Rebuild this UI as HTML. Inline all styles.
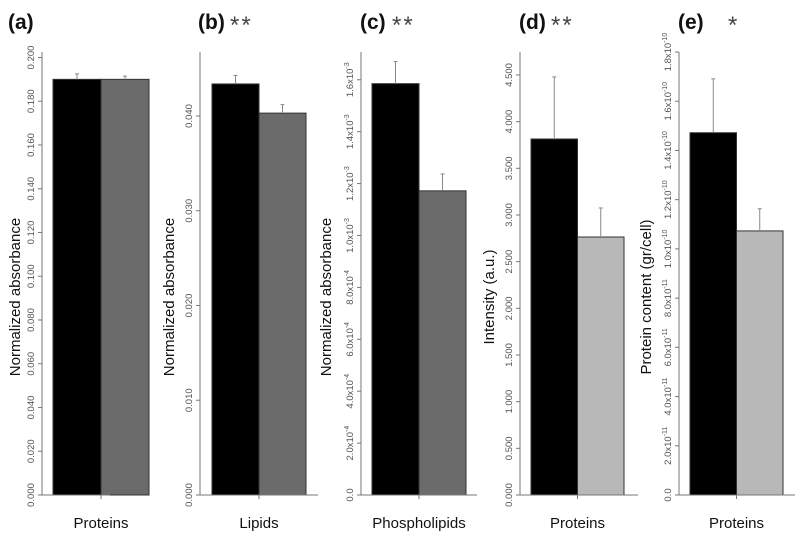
<!DOCTYPE html>
<html><head><meta charset="utf-8"><style>
body{margin:0;background:#fff}
svg{display:block;font-family:"Liberation Sans",Arial,sans-serif}
</style></head><body>
<svg id="chart" width="797" height="550" viewBox="0 0 797 550"></svg>
<script>
const panelLetters = ["(a)","(b)","(c)","(d)","(e)"];
const panelStars = ["", "**", "**", "**", "*"];
const categories = ["Proteins","Lipids","Phospholipids","Proteins","Proteins"];
const yTitles = ["Normalized absorbance","Normalized absorbance","Normalized absorbance","Intensity (a.u.)","Protein content (gr/cell)"];
const controlValues = [0.190, 0.04338, 1.585e-3, 3.814, 1.472e-10];
const controlErrors = [0.0025, 0.0009, 0.085e-3, 0.665, 0.219e-10];
const treatedValues = [0.190, 0.0403, 1.172e-3, 2.764, 1.073e-10];
const treatedErrors = [0.0015, 0.0009, 0.065e-3, 0.311, 0.090e-10];
const yMaxes = [0.2025, 0.04675, 1.707e-3, 4.746, 1.80e-10];
const tickStep = [0.02, 0.01, 0.2e-3, 0.5, 0.2e-10];
const tickCount = [11, 5, 9, 10, 10];
const tickLabelsC = [["0.0",""],["2.0x10","-4"],["4.0x10","-4"],["6.0x10","-4"],["8.0x10","-4"],["1.0x10","-3"],["1.2x10","-3"],["1.4x10","-3"],["1.6x10","-3"]];
const tickLabelsE = [["0.0",""],["2.0x10","-11"],["4.0x10","-11"],["6.0x10","-11"],["8.0x10","-11"],["1.0x10","-10"],["1.2x10","-10"],["1.4x10","-10"],["1.6x10","-10"],["1.8x10","-10"]];
const treatedColors = ["#6b6b6b","#6b6b6b","#6b6b6b","#b8b8b8","#b8b8b8"];

const layout = [
 {ax:42, xEnd:110, bar0:53, bw:48, ylx:14, lx:8, sx:0},
 {ax:200, xEnd:318, bar0:212, bw:47, ylx:168, lx:198, sx:230},
 {ax:361, xEnd:477, bar0:372, bw:47, ylx:325, lx:360, sx:392},
 {ax:520, xEnd:638, bar0:531, bw:46.5, ylx:488, lx:519, sx:551},
 {ax:679, xEnd:795, bar0:690, bw:46.5, ylx:645, lx:678, sx:728}
];
const yTop=52, yBottom=495;
const NS="http://www.w3.org/2000/svg";
const svg=document.getElementById('chart');
function mk(tag,attrs,parent){const e=document.createElementNS(NS,tag);for(const k in attrs)e.setAttribute(k,attrs[k]);(parent||svg).appendChild(e);return e;}
function fmt(i,v){
 if(i===2) return tickLabelsC[Math.round(v/tickStep[2])]||[v.toExponential(1),""];
 if(i===4) return tickLabelsE[Math.round(v/tickStep[4])]||[v.toExponential(1),""];
 return [v.toFixed(3),""];
}
for(let i=0;i<5;i++){
 const L=layout[i];
 const y=v=>yBottom-(v/yMaxes[i])*(yBottom-yTop);
 const g=mk('g',{});
 
 
 const pl=mk('text',{x:L.lx,y:29,'font-size':21,'font-weight':'bold',fill:'#111'},g);pl.textContent=panelLetters[i];
 
 
 if(panelStars[i]){const st=mk('text',{x:L.sx,y:33,'font-size':24,fill:'#444','letter-spacing':2},g);st.textContent=panelStars[i];
  
  }
 const x1=L.bar0,x2=L.bar0+L.bw;
 const vals=[controlValues[i],treatedValues[i]],errs=[controlErrors[i],treatedErrors[i]],cols=['#000',treatedColors[i]];
 [x1,x2].forEach((bx,k)=>{
  const r=mk('rect',{x:bx,y:y(vals[k]),width:L.bw,height:yBottom-y(vals[k]),fill:cols[k],stroke:'#333','stroke-width':1},g);
  
  
  const cx=bx+L.bw/2;
  const e=mk('line',{x1:cx,x2:cx,y1:y(vals[k]),y2:y(vals[k]+errs[k]),stroke:'#888','stroke-width':1},g);
  
  
  mk('line',{x1:cx-2,x2:cx+2,y1:y(vals[k]+errs[k]),y2:y(vals[k]+errs[k]),stroke:'#888','stroke-width':1},g);
 });
 const ya=mk('line',{x1:L.ax,x2:L.ax,y1:yTop,y2:yBottom,stroke:'#777','stroke-width':1},g);
 
 
 const xa=mk('line',{x1:L.ax-4,x2:L.xEnd,y1:yBottom,y2:yBottom,stroke:'#777','stroke-width':1},g);
 
 
 mk('line',{x1:x2,x2:x2,y1:yBottom,y2:yBottom+4,stroke:'#777'},g);
 for(let t=0;t<tickCount[i];t++){
  const v=t*tickStep[i],ty=y(v);
  mk('line',{x1:L.ax-4,x2:L.ax,y1:ty,y2:ty,stroke:'#777'},g);
  const f=fmt(i,v);
  const tl=mk('text',{x:0,y:0,'font-size':9.5,fill:'#555','text-anchor':'middle',transform:`translate(${L.ax-8},${ty}) rotate(-90)`},g);
  
  
  tl.appendChild(document.createTextNode(f[0]));
  if(f[1]){const s=mk('tspan',{dy:-4,'font-size':7},tl);s.textContent=f[1];}
 }
 const xl=mk('text',{x:x2,y:528,'font-size':15,fill:'#111','text-anchor':'middle'},g);xl.textContent=categories[i];
 
 
 const yt=mk('text',{x:0,y:0,'font-size':15,fill:'#111','text-anchor':'middle',transform:`translate(${L.ylx+6},297) rotate(-90)`},g);yt.textContent=yTitles[i];
 
 
}
</script>
</body></html>
